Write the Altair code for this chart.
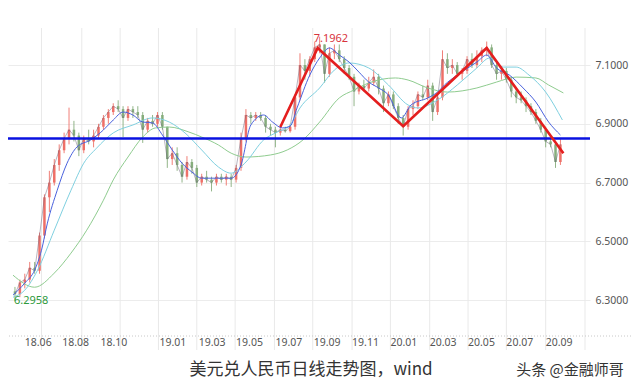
import altair as alt
import pandas as pd

# ---- candle data (trading-day index, USD/CNY) ----
days = list(range(10, 566, 5))
opens = [6.33, 6.32, 6.36, 6.37, 6.41, 6.40, 6.52, 6.65, 6.70, 6.76,
         6.81, 6.85, 6.88, 6.86, 6.81, 6.85, 6.84, 6.86, 6.89, 6.92,
         6.94, 6.96, 6.95, 6.92, 6.95, 6.94, 6.93, 6.88, 6.91, 6.90,
         6.93, 6.89, 6.78, 6.80, 6.76, 6.72, 6.77, 6.75, 6.70, 6.72,
         6.71, 6.70, 6.72, 6.71, 6.72, 6.71, 6.75, 6.85, 6.93, 6.92,
         6.93, 6.92, 6.89, 6.88, 6.87, 6.88, 6.875, 6.89, 6.99, 7.10,
         7.08, 7.12, 7.16, 7.17, 7.07, 7.14, 7.15, 7.12, 7.09, 7.06,
         7.01, 7.03, 7.02, 7.04, 7.06, 7.02, 6.97, 7.00, 6.96, 6.92,
         6.89, 6.95, 6.96, 7.00, 6.99, 7.03, 6.94, 6.99, 7.12, 7.09,
         7.10, 7.07, 7.08, 7.12, 7.10, 7.13, 7.15, 7.16, 7.10, 7.07,
         7.08, 7.05, 7.01, 6.99, 6.98, 6.96, 6.94, 6.91, 6.88, 6.84,
         6.83, 6.77]
highs = [6.345, 6.37, 6.39, 6.43, 6.43, 6.53, 6.66, 6.74, 6.78, 6.83,
         6.87, 6.955, 6.91, 6.87, 6.86, 6.88, 6.88, 6.90, 6.93, 6.95,
         6.97, 6.98, 6.96, 6.96, 6.96, 6.96, 6.94, 6.92, 6.93, 6.94,
         6.94, 6.89, 6.82, 6.82, 6.77, 6.79, 6.78, 6.76, 6.73, 6.74,
         6.72, 6.73, 6.73, 6.73, 6.73, 6.76, 6.87, 6.95, 6.94, 6.94,
         6.94, 6.93, 6.90, 6.89, 6.89, 6.89, 6.90, 7.00, 7.14, 7.12,
         7.13, 7.18, 7.1962, 7.17, 7.16, 7.17, 7.17, 7.13, 7.10, 7.07,
         7.04, 7.05, 7.06, 7.085, 7.07, 7.03, 7.01, 7.01, 6.97, 6.93,
         6.96, 6.98, 7.01, 7.03, 7.05, 7.04, 7.00, 7.15, 7.14, 7.12,
         7.11, 7.09, 7.13, 7.14, 7.15, 7.16, 7.18, 7.17, 7.11, 7.09,
         7.09, 7.06, 7.02, 7.01, 6.99, 6.97, 6.95, 6.92, 6.89, 6.86,
         6.84, 6.85]
lows = [6.2958, 6.31, 6.34, 6.36, 6.39, 6.39, 6.51, 6.60, 6.69, 6.74,
        6.80, 6.83, 6.84, 6.79, 6.80, 6.83, 6.82, 6.85, 6.88, 6.90,
        6.93, 6.94, 6.855, 6.91, 6.92, 6.92, 6.835, 6.87, 6.89, 6.89,
        6.88, 6.75, 6.76, 6.74, 6.70, 6.71, 6.73, 6.685, 6.69, 6.70,
        6.67, 6.69, 6.70, 6.69, 6.685, 6.70, 6.74, 6.84, 6.90, 6.91,
        6.91, 6.87, 6.86, 6.82, 6.86, 6.87, 6.87, 6.88, 6.98, 7.05,
        7.06, 7.11, 7.14, 7.04, 7.06, 7.12, 7.11, 7.07, 7.05, 6.96,
        7.00, 7.01, 7.01, 7.03, 7.00, 6.94, 6.96, 6.95, 6.90, 6.86,
        6.88, 6.93, 6.95, 6.98, 6.98, 6.91, 6.93, 6.98, 7.07, 7.07,
        7.06, 7.05, 7.07, 7.09, 7.09, 7.11, 7.13, 7.09, 7.05, 7.05,
        7.04, 6.99, 6.97, 6.97, 6.94, 6.93, 6.90, 6.87, 6.82, 6.82,
        6.75, 6.76]
closes = [6.32, 6.36, 6.37, 6.41, 6.40, 6.52, 6.65, 6.70, 6.76, 6.81,
          6.85, 6.88, 6.86, 6.81, 6.85, 6.84, 6.86, 6.89, 6.92, 6.94,
          6.96, 6.95, 6.92, 6.95, 6.94, 6.93, 6.88, 6.91, 6.90, 6.93,
          6.89, 6.78, 6.80, 6.76, 6.72, 6.77, 6.75, 6.70, 6.72, 6.71,
          6.70, 6.72, 6.71, 6.72, 6.71, 6.75, 6.85, 6.93, 6.92, 6.93,
          6.92, 6.89, 6.88, 6.87, 6.88, 6.875, 6.89, 6.99, 7.10, 7.08,
          7.12, 7.16, 7.17, 7.07, 7.14, 7.15, 7.12, 7.09, 7.06, 7.01,
          7.03, 7.02, 7.04, 7.06, 7.02, 6.97, 7.00, 6.96, 6.92, 6.89,
          6.95, 6.96, 7.00, 6.99, 7.03, 6.94, 6.99, 7.12, 7.09, 7.10,
          7.07, 7.08, 7.12, 7.10, 7.13, 7.15, 7.16, 7.10, 7.07, 7.08,
          7.05, 7.01, 6.99, 6.98, 6.96, 6.94, 6.91, 6.88, 6.84, 6.83,
          6.77, 6.83]

# ---- moving averages ----
ma_fast_day = [8, 20, 30, 37, 43, 53, 63, 73, 87, 100, 110, 120, 130, 140, 150,
               160, 170, 180, 190, 200, 215, 230, 240, 250, 263, 272, 282, 290,
               297, 310, 320, 330, 340, 350, 360, 370, 380, 390, 403, 413, 430,
               440, 447, 460, 480, 490, 500, 513, 527, 540, 553, 565]
ma_fast_val = [6.317, 6.358, 6.402, 6.470, 6.562, 6.674, 6.766, 6.821, 6.845, 6.879,
               6.913, 6.940, 6.930, 6.906, 6.903, 6.862, 6.811, 6.766, 6.736, 6.715,
               6.715, 6.715, 6.760, 6.896, 6.930, 6.906, 6.886, 6.892, 6.954, 7.066,
               7.124, 7.158, 7.134, 7.110, 7.076, 7.042, 7.022, 6.998, 6.920, 6.964,
               6.988, 7.008, 7.032, 7.066, 7.110, 7.134, 7.090, 7.066, 7.022, 6.974,
               6.906, 6.862]
ma_mid_day = [8, 20, 33, 50, 67, 80, 93, 110, 130, 150, 167, 183, 200, 217, 230,
              245, 263, 277, 290, 300, 320, 335, 350, 370, 390, 410, 420, 440,
              460, 480, 493, 507, 520, 533, 550, 567]
ma_mid_val = [6.310, 6.334, 6.402, 6.538, 6.674, 6.766, 6.817, 6.869, 6.896, 6.920,
              6.906, 6.869, 6.811, 6.753, 6.732, 6.770, 6.845, 6.872, 6.896, 6.954,
              7.022, 7.083, 7.107, 7.090, 7.032, 6.964, 6.954, 6.981, 7.032, 7.090,
              7.124, 7.093, 7.093, 7.066, 7.008, 6.913]
ma_slow_day = [8, 30, 50, 67, 83, 100, 110, 125, 140, 153, 167, 187, 200, 217, 230,
               245, 270, 287, 303, 320, 340, 355, 370, 397, 410, 430, 450, 480,
               500, 520, 540, 553, 568]
ma_slow_val = [6.385, 6.344, 6.392, 6.460, 6.538, 6.640, 6.709, 6.787, 6.855, 6.886,
               6.889, 6.872, 6.855, 6.828, 6.800, 6.787, 6.794, 6.811, 6.845, 6.906,
               6.988, 7.015, 7.039, 7.056, 7.049, 7.022, 7.008, 7.022, 7.042, 7.059,
               7.056, 7.032, 7.005]

# ---- annotations ----
trend_day = [280, 318, 405, 490, 568]
trend_val = [6.889, 7.158, 6.892, 7.158, 6.800]
support_level = 6.85
high_label = "7.1962"
low_label = "6.2958"

grid_days = [37, 78, 117, 156, 195, 234, 274, 313, 353, 392, 432, 471, 510, 550, 590]
label_days = [20, 58, 97, 157, 197, 235, 275, 314, 353, 392, 432, 471, 510, 550]
label_text = ["18.06", "18.08", "18.10", "19.01", "19.03", "19.05", "19.07",
              "19.09", "19.11", "20.01", "20.03", "20.05", "20.07", "20.09"]
y_ticks = [6.3, 6.5, 6.7, 6.9, 7.1]
caption = "美元兑人民币日线走势图，wind"
watermark = "头条 @金融师哥"

W, H = 582, 308
RED, GREEN = "#ee7068", "#86ad7c"
xs = alt.Scale(domain=[8, 590], nice=False, zero=False)
ys = alt.Scale(domain=[6.178, 7.226], nice=False, zero=False)
yax = alt.Axis(orient="right", values=y_ticks, format=".4f", grid=True,
               gridColor="#ececec", ticks=False, domain=False, labelColor="#555555",
               labelFontSize=10.5, labelFont="Noto Sans", labelPadding=5, title=None)

def X(field):
    return alt.X(field, scale=xs, axis=None)

def Y(field):
    return alt.Y(field, scale=ys, axis=yax)

candles = pd.DataFrame({"day": days, "open": opens, "high": highs,
                        "low": lows, "close": closes})

def ma_df(d, v):
    return pd.DataFrame({"day": d, "val": v})

base = alt.Chart(candles)
color_cond = alt.condition("datum.close >= datum.open", alt.value(RED), alt.value(GREEN))

gridv = alt.Chart(pd.DataFrame({"day": grid_days})).mark_rule(
    color="#e9e9e9", strokeWidth=1).encode(
    x=X("day:Q"), y=alt.value(0), y2=alt.value(322))

bottom_line = alt.Chart(pd.DataFrame({"a": [0]})).mark_rule(
    color="#c8c8c8", strokeDash=[1, 2], strokeWidth=1).encode(
    x=alt.value(-8), x2=alt.value(624), y=alt.value(308))

wick = base.mark_rule(strokeWidth=0.9).encode(
    x=X("day:Q"), y=Y("low:Q"), y2="high:Q", color=color_cond)
body = base.mark_bar(size=2.5).encode(
    x=X("day:Q"), y=Y("open:Q"), y2="close:Q", color=color_cond)
ma5 = base.mark_line(color="#6a6078", strokeWidth=0.8, opacity=0.6).encode(
    x=X("day:Q"), y=Y("close:Q"))

def ma_line(d, v, col, w=1):
    return alt.Chart(ma_df(d, v)).mark_line(
        color=col, strokeWidth=w, interpolate="monotone").encode(
        x=X("day:Q"), y=Y("val:Q"))

slow = ma_line(ma_slow_day, ma_slow_val, "#8fcc8f")
mid = ma_line(ma_mid_day, ma_mid_val, "#7fd0e0")
fast = ma_line(ma_fast_day, ma_fast_val, "#4a62dd")

support = alt.Chart(pd.DataFrame({"v": [support_level]})).mark_rule(
    color="#0a12e0", strokeWidth=2.5).encode(y=Y("v:Q"))

trend = alt.Chart(pd.DataFrame({"day": trend_day, "val": trend_val})).mark_line(
    color="#e41e1e", strokeWidth=2.6).encode(x=X("day:Q"), y=Y("val:Q"))

hi_txt = alt.Chart(pd.DataFrame({"day": [314], "val": [7.188], "t": [high_label]})).mark_text(
    align="left", baseline="middle", color="#d8343c", fontSize=11, font="Noto Sans").encode(
    x=X("day:Q"), y=Y("val:Q"), text="t:N")
lo_txt = alt.Chart(pd.DataFrame({"day": [9], "val": [6.297], "t": [low_label]})).mark_text(
    align="left", baseline="middle", color="#2e9a3c", fontSize=11, font="Noto Sans").encode(
    x=X("day:Q"), y=Y("val:Q"), text="t:N")

xlabels = alt.Chart(pd.DataFrame({"day": label_days, "t": label_text})).mark_text(
    align="left", baseline="middle", color="#555555", fontSize=10.5, font="Noto Sans").encode(
    x=X("day:Q"), y=alt.value(315), text="t:N")

cap = alt.Chart(pd.DataFrame({"t": [caption]})).mark_text(
    align="center", baseline="middle", color="#333333", fontSize=17,
    font="Noto Sans CJK SC").encode(x=alt.value(303), y=alt.value(342), text="t:N")
wm = alt.Chart(pd.DataFrame({"t": [watermark]})).mark_text(
    align="center", baseline="middle", color="#333333", fontSize=15,
    font="Noto Sans CJK SC").encode(x=alt.value(562), y=alt.value(342), text="t:N")

chart = alt.layer(
    gridv, bottom_line, wick, body, ma5, slow, mid, fast,
    support, trend, hi_txt, lo_txt, xlabels, cap, wm
).properties(
    width=W, height=H,
    autosize=alt.AutoSizeParams(type="none"),
    padding={"left": 0, "top": 20, "right": 42, "bottom": 46},
    background="white"
).configure_view(stroke=None)

chart.save("out.html", embed_options={"renderer": "svg", "actions": False})
